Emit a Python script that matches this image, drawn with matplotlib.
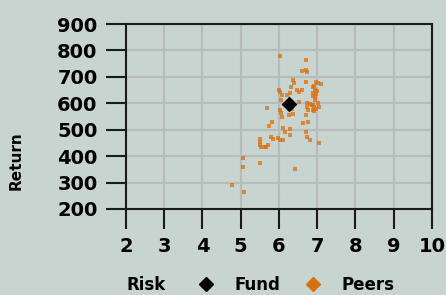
import matplotlib
matplotlib.use("Agg")
import matplotlib.pyplot as plt
from matplotlib.lines import Line2D

# fund position (risk, return)
fund_risk = [6.25]
fund_return = [598]

# peer funds
peer_risk = [
    6.03, 6.71, 6.59, 6.71, 6.72, 6.71, 6.37, 6.39, 6.98, 7.03,
    7.09, 6.31, 6.46, 6.53, 6.90, 6.95, 6.90, 6.98, 6.88, 6.95,
    6.01, 6.03, 6.07, 6.20, 6.35, 6.53, 6.72, 6.80, 6.90, 7.02,
    7.05, 6.92, 6.85, 6.72, 6.76, 6.90, 6.97, 6.92, 6.03, 6.05,
    6.07, 5.68, 6.27, 6.37, 6.71, 6.77, 6.64, 5.83, 5.74, 6.11,
    6.16, 6.30, 6.29, 6.72, 6.81, 6.70, 7.05, 5.50, 5.51, 5.50,
    5.52, 5.63, 5.67, 5.72, 5.79, 5.85, 5.98, 6.03, 6.10, 5.05,
    5.05, 5.50, 6.42, 4.76, 5.09, 6.92, 7.00, 6.95, 6.60, 6.28,
    6.05, 6.35,
]
peer_return = [
    780, 764, 722, 726, 719, 679, 688, 676, 682, 676,
    673, 663, 650, 644, 660, 652, 640, 634, 628, 622,
    650, 641, 631, 631, 606, 606, 602, 598, 595, 602,
    585, 585, 595, 585, 576, 576, 580, 570, 575, 562,
    549, 581, 556, 559, 556, 530, 524, 530, 514, 505,
    492, 501, 480, 474, 461, 490, 448, 463, 454, 442,
    436, 436, 436, 442, 474, 464, 467, 461, 462, 392,
    358, 375, 350, 291, 265, 665, 645, 612, 650, 640,
    612, 580,
]

x_ticks = [2, 3, 4, 5, 6, 7, 8, 9, 10]
y_ticks = [200, 300, 400, 500, 600, 700, 800, 900]

bg = "#c8d4cf"
orange = "#d9700f"

fig = plt.figure(figsize=(4.46, 2.95), dpi=100, facecolor=bg)
W, H = 446, 295
ax = fig.add_axes([126 / W, 1 - 209 / H, (432 - 126) / W, (209 - 24) / H])
ax.set_facecolor(bg)

ax.scatter(peer_risk, peer_return, marker="s", s=6, color=orange,
           alpha=0.75, linewidths=0, zorder=3)
ax.scatter(fund_risk, fund_return, marker="D", s=65, color="black",
           linewidths=0, zorder=4)

ax.set_xlim(2, 10)
ax.set_ylim(200, 900)
ax.set_xticks(x_ticks)
ax.set_yticks(y_ticks)
ax.grid(True, color="#b7bbbb", linewidth=1.5, zorder=0)
ax.set_axisbelow(True)

for s in ax.spines.values():
    s.set_linewidth(1.5)
    s.set_color("#1a1a1a")

ax.tick_params(direction="out", length=14.5, width=1.5, pad=6,
               labelsize=14, color="#1a1a1a")
for lab in ax.get_xticklabels() + ax.get_yticklabels():
    lab.set_fontweight("bold")

fig.text(16 / W, 1 - 161 / H, "Return", rotation=90, ha="center",
         va="center", fontsize=11, fontweight="bold")

fig.text(127 / W, 1 - 285 / H, "Risk", ha="left", va="center",
         fontsize=12, fontweight="bold")
handles = [
    Line2D([], [], marker="D", color="black", linestyle="none", markersize=7),
    Line2D([], [], marker="D", color=orange, linestyle="none", markersize=7),
]
fig.legend(handles, ["Fund", "Peers"], loc="center",
           bbox_to_anchor=(296 / W, 1 - 285 / H), ncol=2, frameon=False,
           prop={"weight": "bold", "size": 12}, handlelength=1,
           handletextpad=1.2, columnspacing=1.5, borderpad=0)

fig.savefig("out.png", dpi=100, facecolor=bg)
